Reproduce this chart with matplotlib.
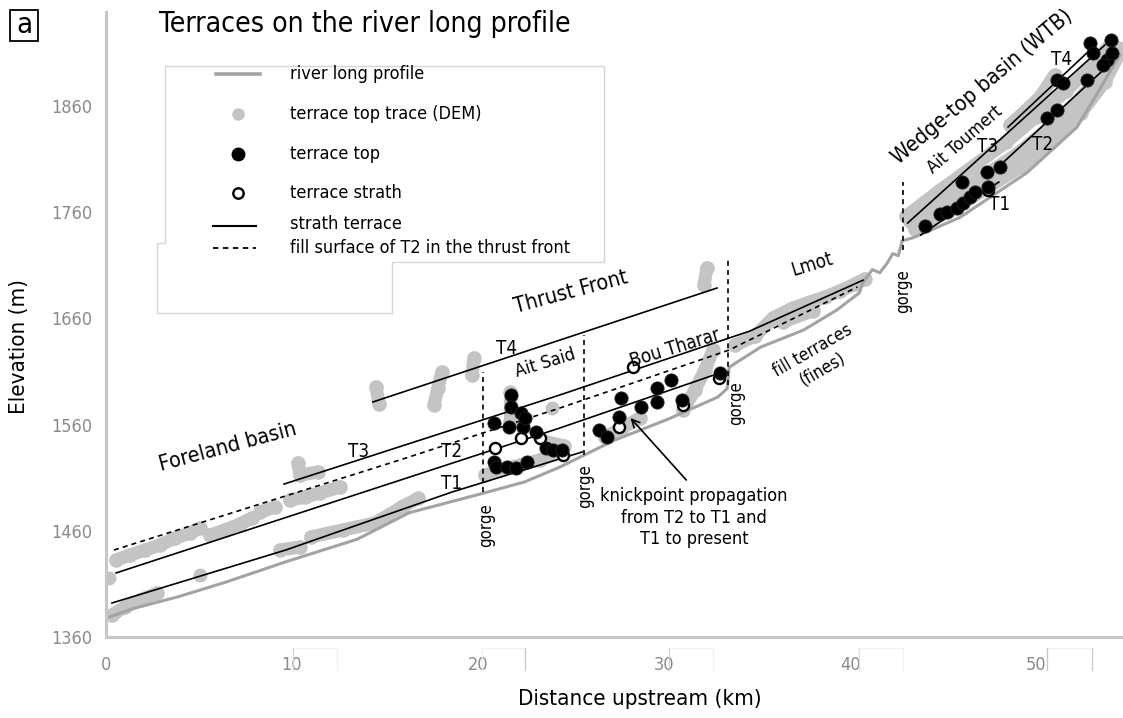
import matplotlib
matplotlib.use("Agg")
import matplotlib.pyplot as plt
from matplotlib.patches import Polygon, Rectangle
from matplotlib.lines import Line2D

plt.rcParams["font.family"] = ["DejaVu Sans"]
plt.rcParams["font.stretch"] = "condensed"

W, H = 1123, 718

# ---------------- data (distance upstream in km, elevation in m) ----------------
profile_km = [0.2, 1.5, 3.9, 6.5, 9.7, 13.5, 16.3, 20.2, 22.5, 24.4, 27.3, 30.2, 32.9,
              33.4, 33.5, 35.2, 37.5, 39.3, 40.5, 40.7, 41.2, 41.6, 42.0, 42.3, 42.6,
              42.8, 43.4, 45.9, 49.5, 52.2, 53.1, 54.5]
profile_m = [1379, 1387, 1398, 1412, 1431, 1452, 1477, 1495, 1506, 1520, 1545, 1565, 1586,
             1594, 1614, 1633, 1649, 1668, 1684, 1694, 1706, 1703, 1712, 1721, 1719,
             1733, 1736, 1755, 1797, 1840, 1866, 1908]

# terrace top traces from the DEM, one (km, m) pair per trace
foreland_dem = [
    ([0.16], [1415.6]),
    ([0.32, 1.02, 1.83, 2.74], [1380.7, 1388.2, 1394.8, 1401.4]),
    ([0.54, 1.29, 2.10, 2.90, 3.71, 4.52, 5.05], [1432.5, 1437.2, 1441.9, 1446.6, 1453.2, 1457.9, 1462.6]),
    ([5.05], [1418.4]),
    ([5.59, 6.40, 7.20, 7.85], [1456.0, 1460.8, 1466.4, 1472.1]),
    ([8.28, 9.09], [1477.7, 1482.4]),
    ([9.89, 10.70, 11.50, 12.58], [1489.0, 1491.8, 1495.6, 1501.2]),
    ([10.32, 10.43, 11.40], [1523.8, 1512.5, 1515.4]),
    ([9.35, 10.43], [1441.9, 1444.7]),
    ([11.02, 12.74, 14.46, 15.97, 16.77], [1454.2, 1460.8, 1467.3, 1483.0, 1490.5]),
    ([14.52, 14.68], [1595.4, 1579.4]),
    ([18.06, 17.85, 17.63], [1609.5, 1594.4, 1578.5]),
    ([19.78, 19.68], [1622.7, 1606.7]),
]
thrust_dem = [
    ([20.38, 21.18, 22.26, 23.33, 24.41], [1512.5, 1517.2, 1522.0, 1526.7, 1534.2]),
    ([21.7, 21.7], [1591.0, 1562.0]),
    ([23.6, 24.6], [1544.0, 1540.0]),
    ([23.98], [1575.6]),
    ([26.83, 27.74, 28.71], [1548.3, 1556.8, 1566.2]),
    ([31.02, 31.66, 32.20, 32.63], [1573.7, 1592.6, 1611.4, 1630.2]),
    ([32.31, 32.15], [1707.5, 1691.4]),
]
lmot_dem = [
    ([33.82, 34.89, 35.86, 36.93, 37.85, 38.65, 39.46, 40.27, 40.81],
     [1634.9, 1643.4, 1660.4, 1669.8, 1675.4, 1680.1, 1685.8, 1692.4, 1697.1]),
    ([36.4, 38.0], [1657.0, 1667.0]),
]
wtb_dem = [
    ([43.5, 45.4, 47.3, 49.2, 50.8, 52.4, 53.7, 54.5], [1744, 1762, 1782, 1803, 1826, 1853, 1883, 1910]),
    ([43.2, 45.0, 47.0, 49.0, 50.6, 52.2, 53.5, 54.4], [1752, 1770, 1792, 1815, 1838, 1864, 1890, 1915]),
    ([43.0, 44.8, 46.6, 48.4, 50.0, 51.6, 53.0, 54.0], [1756, 1780, 1803, 1826, 1850, 1874, 1898, 1918]),
    ([48.6, 50.2, 51.0], [1842, 1868, 1889]),
]

# terrace tops (filled) and straths (open)
top_km = [20.86, 21.77, 21.77, 21.67, 22.31, 22.42, 23.12, 22.53, 20.86, 20.97, 21.56, 22.04,
          22.63, 23.65, 24.03, 24.51,
          26.50, 26.93, 27.69, 27.58, 28.76, 29.62, 29.62, 30.37, 30.97, 33.01,
          44.03, 44.84, 45.21, 45.75, 46.07, 46.02, 46.45, 46.72, 47.36, 47.42, 48.06,
          50.59, 51.13, 51.13, 51.45, 52.74, 52.90, 53.06, 54.03, 53.81, 54.08, 53.60]
top_m = [1561.5, 1587.9, 1576.6, 1557.7, 1570.9, 1557.7, 1553.0, 1566.2, 1524.8, 1520.1, 1520.1, 1519.1,
         1524.8, 1538.0, 1536.1, 1536.1,
         1554.9, 1548.3, 1585.0, 1567.2, 1576.6, 1594.5, 1581.3, 1602.0, 1583.2, 1608.6,
         1747.0, 1758.3, 1760.2, 1764.0, 1768.7, 1788.4, 1774.3, 1779.0, 1797.8, 1783.7, 1802.6,
         1848.7, 1856.2, 1884.5, 1881.7, 1884.5, 1919.3, 1909.9, 1922.1, 1903.3, 1909.9, 1898.6]
strath_km = [28.33, 20.91, 22.31, 23.33, 24.57, 27.58, 31.02, 32.96, 47.42]
strath_m = [1614.2, 1538.0, 1547.4, 1547.4, 1531.4, 1557.7, 1578.5, 1603.9, 1780.9]

# strath terrace lines
t1_km, t1_m = [0.32, 9.68, 18.6, 25.6], [1392.0, 1442.0, 1496.5, 1534.2]
t2_km, t2_m = [0.54, 24.4, 33.0], [1420.3, 1556.8, 1608.6]
t3_km, t3_m = [9.57, 24.4, 34.6, 40.7], [1504.0, 1587.9, 1648.0, 1696.0]
t4_km, t4_m = [14.35, 32.85], [1581.3, 1688.6]
wt1_km, wt1_m = [43.8, 48.0], [1738.5, 1788.4]
wt2_km, wt2_m = [48.2, 54.2], [1806.3, 1903.3]
wt3_km, wt3_m = [43.1, 53.7], [1749.8, 1917.4]
wt4_km, wt4_m = [48.5, 52.9], [1840.2, 1912.7]
# fill surface of T2 in the thrust front
t2fill_km = [0.43, 15.8, 24.4, 33.5, 40.4]
t2fill_m = [1441.9, 1526.7, 1575.6, 1630.2, 1689.6]

# gorges bounding the thrust-front reaches
gorge_km = [20.27, 25.70, 33.44, 42.85]
gorge_lo = [1496.5, 1531.0, 1597.0, 1724.0]
gorge_hi = [1609.5, 1644.0, 1718.0, 1788.0]
gorge_lab_km = [20.43, 25.75, 33.87, 42.85]
gorge_lab_m = [1465.5, 1502.2, 1580.3, 1685.8]

x_ticks = [0, 10, 20, 30, 40, 50]
y_ticks = [1360, 1460, 1560, 1660, 1760, 1860]

# ---------------- styling ----------------
DEM_GREY = "#c4c4c4"
PROF_GREY = "#a3a3a3"
TICK_GREY = "#8a8a8a"
SPINE_GREY = "#c6c6c6"

fig = plt.figure(figsize=(W / 100, H / 100), dpi=100)
ax = fig.add_axes([106 / W, 81 / H, 1017 / W, 625 / H])
ax.set_xlim(0, 1017 / 18.6)
ax.set_ylim(1360, 1360 + 625 / 1.062)

for side in ("top", "right"):
    ax.spines[side].set_visible(False)
for side in ("left", "bottom"):
    ax.spines[side].set_color(SPINE_GREY)
    ax.spines[side].set_linewidth(2.2)

ax.set_xticks(x_ticks)
ax.set_yticks(y_ticks)
ax.tick_params(axis="x", length=0, pad=13.5, labelsize=13, labelcolor=TICK_GREY)
ax.tick_params(axis="y", length=0, pad=10, labelsize=13, labelcolor=TICK_GREY)

# DEM traces
for group in (foreland_dem, thrust_dem, lmot_dem, wtb_dem):
    for km, m in group:
        if len(km) == 1:
            ax.plot(km, m, "o", ms=10, color=DEM_GREY, mec="none", zorder=1.5)
        else:
            ax.plot(km, m, "-", lw=9.5, color=DEM_GREY, solid_capstyle="round",
                    solid_joinstyle="round", zorder=1.5)
            ax.plot(km, m, "o", ms=10.5, color=DEM_GREY, mec="none", zorder=1.5)

# river long profile
ax.plot(profile_km, profile_m, "-", color=PROF_GREY, lw=2.2, zorder=2)

# strath terrace lines
for km, m in ((t1_km, t1_m), (t2_km, t2_m), (t3_km, t3_m), (t4_km, t4_m),
              (wt1_km, wt1_m), (wt2_km, wt2_m), (wt3_km, wt3_m), (wt4_km, wt4_m)):
    ax.plot(km, m, "-", color="black", lw=1.2, zorder=3)
ax.plot(t2fill_km, t2fill_m, color="black", lw=1.2, ls=(0, (3, 2.5)), zorder=3)

# gorge limits
for g, lo, hi in zip(gorge_km, gorge_lo, gorge_hi):
    ax.plot([g, g], [lo, hi], color="black", lw=1.2, ls=(0, (3, 2.5)), zorder=3)
for gx, gy in zip(gorge_lab_km, gorge_lab_m):
    ax.text(gx, gy, "gorge", rotation=90, ha="center", va="center", fontsize=12, zorder=6)

# points
ax.plot(strath_km, strath_m, "o", ms=8, mfc="white", mec="black", mew=1.7, zorder=4)
ax.plot(top_km, top_m, "o", ms=9.5, mfc="black", mec="#222222", mew=0.6, zorder=5)

# reach and terrace labels
labels = [
    ("Foreland basin", 6.56, 1538.9, 15, 15.5),
    ("Thrust Front", 25.0, 1684.9, 15, 15.5),
    ("Bou Tharar", 30.59, 1632.1, 17, 13.5),
    ("Ait Said", 23.6, 1618.0, 17, 13),
    ("Lmot", 37.95, 1710.3, 17, 13.5),
    ("fill terraces\n(fines)", 38.28, 1620.8, 30, 12.5),
    ("Wedge-top basin (WTB)", 47.09, 1877.9, 40, 15.5),
    ("Ait Toumert", 46.18, 1828.0, 41, 13),
    ("T4", 21.56, 1632.1, 0, 13.5),
    ("T3", 13.60, 1534.2, 0, 13.5),
    ("T2", 18.60, 1534.2, 0, 13.5),
    ("T1", 18.60, 1504.1, 0, 13.5),
    ("T4", 51.39, 1904.2, 0, 13.5),
    ("T3", 47.42, 1821.4, 0, 13.5),
    ("T2", 50.37, 1823.3, 0, 13.5),
    ("T1", 48.06, 1766.8, 0, 13.5),
]
for txt, x, y, rot, fs in labels:
    ax.text(x, y, txt, rotation=rot, rotation_mode="anchor", ha="center", va="center",
            fontsize=fs, multialignment="center", zorder=6)

ax.text(31.61, 1472.1, "knickpoint propagation\nfrom T2 to T1 and\nT1 to present",
        ha="center", va="center", fontsize=13, linespacing=1.25, zorder=6)
ax.annotate("", xy=(28.2, 1566.2), xytext=(31.2, 1507.8),
            arrowprops=dict(arrowstyle="->", lw=1.2, color="black", shrinkA=0, shrinkB=0,
                            mutation_scale=14), zorder=6)

# ---------------- figure-level decorations (pixel positions) ----------------
def fx(x):
    return x / W


def fy(y):
    return 1 - y / H


fig.text(fx(19), fy(346), "Elevation (m)", rotation=90, ha="center", va="center", fontsize=16)
fig.text(fx(640), fy(699), "Distance upstream (km)", ha="center", va="center", fontsize=16)
fig.text(fx(159), fy(32), "Terraces on the river long profile", ha="left", va="baseline",
         fontsize=20.3)

fig.add_artist(Rectangle((fx(10), fy(41)), 28 / W, 31 / H, fill=False, lw=1.3, ec="black",
                         transform=fig.transFigure))
fig.text(fx(24), fy(25), "a", ha="center", va="center", fontsize=21)

# legend panel
legend_outline = [(165, 66), (604, 66), (604, 262), (392, 262), (392, 313), (157, 313),
                  (157, 243), (165, 243)]
fig.add_artist(Polygon([(fx(x), fy(y)) for x, y in legend_outline], closed=True,
                       fc="white", ec="#d6d6d6", lw=1.0, transform=fig.transFigure, zorder=1))
fig.add_artist(Line2D([fx(216), fx(260)], [fy(74)] * 2, color=PROF_GREY, lw=2.6,
                      transform=fig.transFigure, zorder=2))
fig.add_artist(Line2D([fx(238)], [fy(114)], marker="o", ms=9, color=DEM_GREY, mec="none",
                      transform=fig.transFigure, zorder=2))
fig.add_artist(Line2D([fx(238)], [fy(154)], marker="o", ms=9, color="black",
                      transform=fig.transFigure, zorder=2))
fig.add_artist(Line2D([fx(238)], [fy(193)], marker="o", ms=7.5, mfc="white", mec="black",
                      mew=1.7, transform=fig.transFigure, zorder=2))
fig.add_artist(Line2D([fx(213), fx(256)], [fy(226)] * 2, color="black", lw=1.5,
                      transform=fig.transFigure, zorder=2))
fig.add_artist(Line2D([fx(213), fx(256)], [fy(248)] * 2, color="black", lw=1.3,
                      ls=(0, (3, 2.5)), transform=fig.transFigure, zorder=2))
legend_texts = [
    ("river long profile", 74),
    ("terrace top trace (DEM)", 114),
    ("terrace top", 154),
    ("terrace strath", 193),
    ("strath terrace", 224),
    ("fill surface of T2 in the thrust front", 248),
]
for txt, y in legend_texts:
    fig.text(fx(290), fy(y), txt, ha="left", va="center", fontsize=13, zorder=3)

# faint boxes beside the distance tick labels
tick_boxes = [(293, 337, "#d2d2d2", "#f0f0f0"), (482, 525, "#f0f0f0", "#c8c8c8"),
              (669, 713, "#d2d2d2", "#f2f2f2"), (859, 903, "#e2e2e2", "#f2f2f2"),
              (1047, 1092, "#c8c8c8", "#c8c8c8")]
for x0, x1, c_left, c_right in tick_boxes:
    fig.add_artist(Line2D([fx(x0), fx(x1)], [fy(648)] * 2, color="#f0f0f0", lw=0.8,
                          transform=fig.transFigure))
    fig.add_artist(Line2D([fx(x0)] * 2, [fy(648), fy(670)], color=c_left, lw=0.9,
                          transform=fig.transFigure))
    fig.add_artist(Line2D([fx(x1)] * 2, [fy(648), fy(670)], color=c_right, lw=0.9,
                          transform=fig.transFigure))

fig.savefig("out.png", dpi=100)
